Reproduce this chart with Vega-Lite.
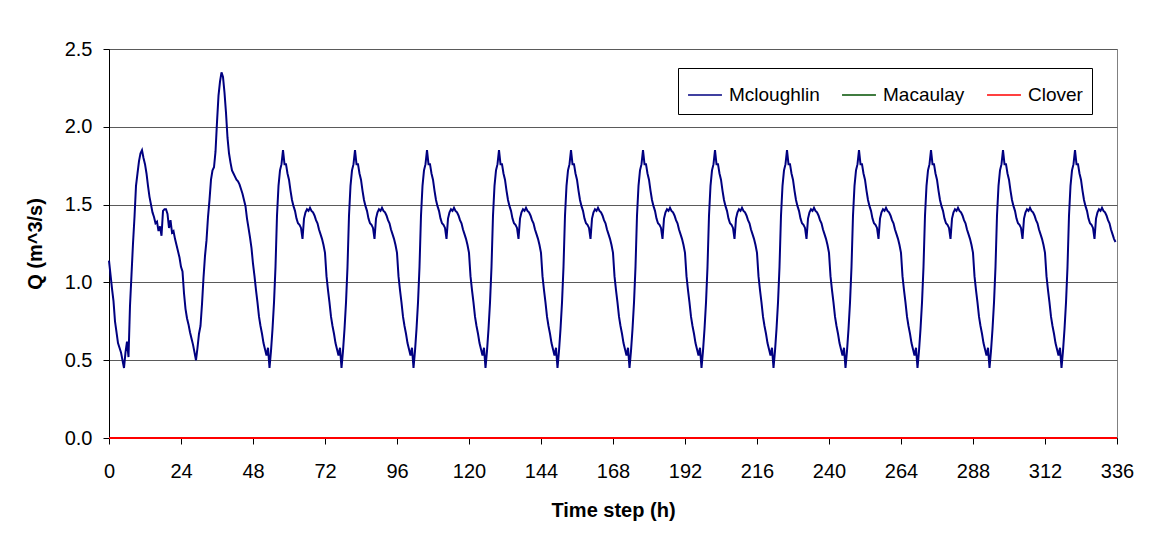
{
"$schema": "https://vega.github.io/schema/vega-lite/v6.json",
"width": 1008,
"height": 389,
"autosize": {"type": "none"},
"padding": {"left": 109, "top": 49, "right": 37, "bottom": 100},
"background": "white",
"config": {
  "font": "Liberation Sans",
  "view": {"stroke": "#808080", "strokeWidth": 1},
  "axis": {"labelFont": "Liberation Sans", "titleFont": "Liberation Sans", "labelFontSize": 20, "titleFontSize": 20, "labelColor": "black", "titleColor": "black", "domainColor": "black", "tickColor": "black", "tickSize": 6, "gridColor": "#5a5a5a", "titleFontWeight": "bold"}
},
"encoding": {
  "x": {"field": "t", "type": "quantitative", "scale": {"domain": [0, 336], "nice": false, "zero": false}, "axis": {"values": [0,24,48,72,96,120,144,168,192,216,240,264,288,312,336], "grid": false, "title": "Time step (h)", "labelPadding": 17, "titlePadding": 19, "labelFlush": false}},
  "y": {"field": "q", "type": "quantitative", "scale": {"domain": [0, 2.5], "nice": false}, "axis": {"values": [0,0.5,1,1.5,2,2.5], "format": ".1f", "title": "Q (m^3/s)", "grid": true, "labelPadding": 11, "titlePadding": 19}}
},
"layer": [
{
"data": {"values": [
{"t":0,"q":1.14},{"t":0.5,"q":1.05},{"t":1,"q":0.96},{"t":1.5,"q":0.88},{"t":2,"q":0.75},{"t":2.5,"q":0.68},{"t":3,"q":0.61},{"t":3.5,"q":0.58},{"t":4,"q":0.55},{"t":4.5,"q":0.5},{"t":5,"q":0.45},{"t":5.5,"q":0.55},{"t":6,"q":0.62},{"t":6.5,"q":0.52},{"t":7,"q":0.85},{"t":7.5,"q":1.05},{"t":8,"q":1.25},{"t":8.5,"q":1.42},{"t":9,"q":1.62},{"t":9.5,"q":1.7},{"t":10,"q":1.78},{"t":10.5,"q":1.83},{"t":11,"q":1.85},{"t":11.5,"q":1.8},{"t":12,"q":1.76},{"t":12.5,"q":1.7},{"t":13,"q":1.62},{"t":13.5,"q":1.55},{"t":14,"q":1.5},{"t":14.5,"q":1.45},{"t":15,"q":1.42},{"t":15.5,"q":1.38},{"t":16,"q":1.39},{"t":16.5,"q":1.33},{"t":17,"q":1.36},{"t":17.5,"q":1.3},{"t":18,"q":1.46},{"t":18.5,"q":1.47},{"t":19,"q":1.47},{"t":19.5,"q":1.44},{"t":20,"q":1.35},{"t":20.5,"q":1.4},{"t":21,"q":1.32},{"t":21.5,"q":1.33},{"t":22,"q":1.28},{"t":22.5,"q":1.24},{"t":23,"q":1.2},{"t":23.5,"q":1.16},
{"t":24,"q":1.1},{"t":24.5,"q":1.07},{"t":25,"q":0.93},{"t":25.5,"q":0.83},{"t":26,"q":0.77},{"t":26.5,"q":0.73},{"t":27,"q":0.68},{"t":27.5,"q":0.64},{"t":28,"q":0.6},{"t":28.5,"q":0.55},{"t":29,"q":0.5},{"t":29.5,"q":0.58},{"t":30,"q":0.67},{"t":30.5,"q":0.72},{"t":31,"q":0.86},{"t":31.5,"q":1.03},{"t":32,"q":1.17},{"t":32.5,"q":1.27},{"t":33,"q":1.42},{"t":33.5,"q":1.53},{"t":34,"q":1.66},{"t":34.5,"q":1.72},{"t":35,"q":1.74},{"t":35.5,"q":1.84},{"t":36,"q":2.03},{"t":36.5,"q":2.2},{"t":37,"q":2.29},{"t":37.5,"q":2.35},{"t":38,"q":2.32},{"t":38.5,"q":2.22},{"t":39,"q":2.09},{"t":39.5,"q":1.93},{"t":40,"q":1.83},{"t":40.5,"q":1.77},{"t":41,"q":1.72},{"t":41.5,"q":1.7},{"t":42,"q":1.68},{"t":42.5,"q":1.66},{"t":43,"q":1.65},{"t":43.5,"q":1.63},{"t":44,"q":1.6},{"t":44.5,"q":1.57},{"t":45,"q":1.53},{"t":45.5,"q":1.49},{"t":46,"q":1.41},{"t":46.5,"q":1.35},{"t":47,"q":1.29},{"t":47.5,"q":1.22},
{"t":48,"q":1.12},{"t":48.5,"q":1.04},{"t":49,"q":0.95},{"t":49.5,"q":0.87},{"t":50,"q":0.78},{"t":50.5,"q":0.72},{"t":51,"q":0.67},{"t":51.5,"q":0.61},{"t":52,"q":0.57},{"t":52.5,"q":0.53},{"t":53,"q":0.58},{"t":53.5,"q":0.45},{"t":54,"q":0.56},{"t":54.5,"q":0.7},{"t":55,"q":0.87},{"t":55.5,"q":1.1},{"t":56,"q":1.43},{"t":56.5,"q":1.62},{"t":57,"q":1.72},{"t":57.5,"q":1.76},{"t":58,"q":1.85},{"t":58.5,"q":1.76},{"t":59,"q":1.76},{"t":59.5,"q":1.7},{"t":60,"q":1.66},{"t":60.5,"q":1.59},{"t":61,"q":1.53},{"t":61.5,"q":1.49},{"t":62,"q":1.46},{"t":62.5,"q":1.41},{"t":63,"q":1.38},{"t":63.5,"q":1.37},{"t":64,"q":1.35},{"t":64.5,"q":1.28},{"t":65,"q":1.41},{"t":65.5,"q":1.45},{"t":66,"q":1.47},{"t":66.5,"q":1.46},{"t":67,"q":1.48},{"t":67.5,"q":1.46},{"t":68,"q":1.45},{"t":68.5,"q":1.43},{"t":69,"q":1.4},{"t":69.5,"q":1.38},{"t":70,"q":1.34},{"t":70.5,"q":1.31},{"t":71,"q":1.28},{"t":71.5,"q":1.24},
{"t":72,"q":1.19},{"t":72.5,"q":1.04},{"t":73,"q":0.95},{"t":73.5,"q":0.87},{"t":74,"q":0.78},{"t":74.5,"q":0.72},{"t":75,"q":0.67},{"t":75.5,"q":0.61},{"t":76,"q":0.57},{"t":76.5,"q":0.53},{"t":77,"q":0.58},{"t":77.5,"q":0.45},{"t":78,"q":0.56},{"t":78.5,"q":0.7},{"t":79,"q":0.87},{"t":79.5,"q":1.1},{"t":80,"q":1.43},{"t":80.5,"q":1.62},{"t":81,"q":1.72},{"t":81.5,"q":1.76},{"t":82,"q":1.85},{"t":82.5,"q":1.76},{"t":83,"q":1.76},{"t":83.5,"q":1.7},{"t":84,"q":1.66},{"t":84.5,"q":1.59},{"t":85,"q":1.53},{"t":85.5,"q":1.49},{"t":86,"q":1.46},{"t":86.5,"q":1.41},{"t":87,"q":1.38},{"t":87.5,"q":1.37},{"t":88,"q":1.35},{"t":88.5,"q":1.28},{"t":89,"q":1.41},{"t":89.5,"q":1.45},{"t":90,"q":1.47},{"t":90.5,"q":1.46},{"t":91,"q":1.48},{"t":91.5,"q":1.46},{"t":92,"q":1.45},{"t":92.5,"q":1.43},{"t":93,"q":1.4},{"t":93.5,"q":1.38},{"t":94,"q":1.34},{"t":94.5,"q":1.31},{"t":95,"q":1.28},{"t":95.5,"q":1.24},
{"t":96,"q":1.19},{"t":96.5,"q":1.04},{"t":97,"q":0.95},{"t":97.5,"q":0.87},{"t":98,"q":0.78},{"t":98.5,"q":0.72},{"t":99,"q":0.67},{"t":99.5,"q":0.61},{"t":100,"q":0.57},{"t":100.5,"q":0.53},{"t":101,"q":0.58},{"t":101.5,"q":0.45},{"t":102,"q":0.56},{"t":102.5,"q":0.7},{"t":103,"q":0.87},{"t":103.5,"q":1.1},{"t":104,"q":1.43},{"t":104.5,"q":1.62},{"t":105,"q":1.72},{"t":105.5,"q":1.76},{"t":106,"q":1.85},{"t":106.5,"q":1.76},{"t":107,"q":1.76},{"t":107.5,"q":1.7},{"t":108,"q":1.66},{"t":108.5,"q":1.59},{"t":109,"q":1.53},{"t":109.5,"q":1.49},{"t":110,"q":1.46},{"t":110.5,"q":1.41},{"t":111,"q":1.38},{"t":111.5,"q":1.37},{"t":112,"q":1.35},{"t":112.5,"q":1.28},{"t":113,"q":1.41},{"t":113.5,"q":1.45},{"t":114,"q":1.47},{"t":114.5,"q":1.46},{"t":115,"q":1.48},{"t":115.5,"q":1.46},{"t":116,"q":1.45},{"t":116.5,"q":1.43},{"t":117,"q":1.4},{"t":117.5,"q":1.38},{"t":118,"q":1.34},{"t":118.5,"q":1.31},{"t":119,"q":1.28},{"t":119.5,"q":1.24},
{"t":120,"q":1.19},{"t":120.5,"q":1.04},{"t":121,"q":0.95},{"t":121.5,"q":0.87},{"t":122,"q":0.78},{"t":122.5,"q":0.72},{"t":123,"q":0.67},{"t":123.5,"q":0.61},{"t":124,"q":0.57},{"t":124.5,"q":0.53},{"t":125,"q":0.58},{"t":125.5,"q":0.45},{"t":126,"q":0.56},{"t":126.5,"q":0.7},{"t":127,"q":0.87},{"t":127.5,"q":1.1},{"t":128,"q":1.43},{"t":128.5,"q":1.62},{"t":129,"q":1.72},{"t":129.5,"q":1.76},{"t":130,"q":1.85},{"t":130.5,"q":1.76},{"t":131,"q":1.76},{"t":131.5,"q":1.7},{"t":132,"q":1.66},{"t":132.5,"q":1.59},{"t":133,"q":1.53},{"t":133.5,"q":1.49},{"t":134,"q":1.46},{"t":134.5,"q":1.41},{"t":135,"q":1.38},{"t":135.5,"q":1.37},{"t":136,"q":1.35},{"t":136.5,"q":1.28},{"t":137,"q":1.41},{"t":137.5,"q":1.45},{"t":138,"q":1.47},{"t":138.5,"q":1.46},{"t":139,"q":1.48},{"t":139.5,"q":1.46},{"t":140,"q":1.45},{"t":140.5,"q":1.43},{"t":141,"q":1.4},{"t":141.5,"q":1.38},{"t":142,"q":1.34},{"t":142.5,"q":1.31},{"t":143,"q":1.28},{"t":143.5,"q":1.24},
{"t":144,"q":1.19},{"t":144.5,"q":1.04},{"t":145,"q":0.95},{"t":145.5,"q":0.87},{"t":146,"q":0.78},{"t":146.5,"q":0.72},{"t":147,"q":0.67},{"t":147.5,"q":0.61},{"t":148,"q":0.57},{"t":148.5,"q":0.53},{"t":149,"q":0.58},{"t":149.5,"q":0.45},{"t":150,"q":0.56},{"t":150.5,"q":0.7},{"t":151,"q":0.87},{"t":151.5,"q":1.1},{"t":152,"q":1.43},{"t":152.5,"q":1.62},{"t":153,"q":1.72},{"t":153.5,"q":1.76},{"t":154,"q":1.85},{"t":154.5,"q":1.76},{"t":155,"q":1.76},{"t":155.5,"q":1.7},{"t":156,"q":1.66},{"t":156.5,"q":1.59},{"t":157,"q":1.53},{"t":157.5,"q":1.49},{"t":158,"q":1.46},{"t":158.5,"q":1.41},{"t":159,"q":1.38},{"t":159.5,"q":1.37},{"t":160,"q":1.35},{"t":160.5,"q":1.28},{"t":161,"q":1.41},{"t":161.5,"q":1.45},{"t":162,"q":1.47},{"t":162.5,"q":1.46},{"t":163,"q":1.48},{"t":163.5,"q":1.46},{"t":164,"q":1.45},{"t":164.5,"q":1.43},{"t":165,"q":1.4},{"t":165.5,"q":1.38},{"t":166,"q":1.34},{"t":166.5,"q":1.31},{"t":167,"q":1.28},{"t":167.5,"q":1.24},
{"t":168,"q":1.19},{"t":168.5,"q":1.04},{"t":169,"q":0.95},{"t":169.5,"q":0.87},{"t":170,"q":0.78},{"t":170.5,"q":0.72},{"t":171,"q":0.67},{"t":171.5,"q":0.61},{"t":172,"q":0.57},{"t":172.5,"q":0.53},{"t":173,"q":0.58},{"t":173.5,"q":0.45},{"t":174,"q":0.56},{"t":174.5,"q":0.7},{"t":175,"q":0.87},{"t":175.5,"q":1.1},{"t":176,"q":1.43},{"t":176.5,"q":1.62},{"t":177,"q":1.72},{"t":177.5,"q":1.76},{"t":178,"q":1.85},{"t":178.5,"q":1.76},{"t":179,"q":1.76},{"t":179.5,"q":1.7},{"t":180,"q":1.66},{"t":180.5,"q":1.59},{"t":181,"q":1.53},{"t":181.5,"q":1.49},{"t":182,"q":1.46},{"t":182.5,"q":1.41},{"t":183,"q":1.38},{"t":183.5,"q":1.37},{"t":184,"q":1.35},{"t":184.5,"q":1.28},{"t":185,"q":1.41},{"t":185.5,"q":1.45},{"t":186,"q":1.47},{"t":186.5,"q":1.46},{"t":187,"q":1.48},{"t":187.5,"q":1.46},{"t":188,"q":1.45},{"t":188.5,"q":1.43},{"t":189,"q":1.4},{"t":189.5,"q":1.38},{"t":190,"q":1.34},{"t":190.5,"q":1.31},{"t":191,"q":1.28},{"t":191.5,"q":1.24},
{"t":192,"q":1.19},{"t":192.5,"q":1.04},{"t":193,"q":0.95},{"t":193.5,"q":0.87},{"t":194,"q":0.78},{"t":194.5,"q":0.72},{"t":195,"q":0.67},{"t":195.5,"q":0.61},{"t":196,"q":0.57},{"t":196.5,"q":0.53},{"t":197,"q":0.58},{"t":197.5,"q":0.45},{"t":198,"q":0.56},{"t":198.5,"q":0.7},{"t":199,"q":0.87},{"t":199.5,"q":1.1},{"t":200,"q":1.43},{"t":200.5,"q":1.62},{"t":201,"q":1.72},{"t":201.5,"q":1.76},{"t":202,"q":1.85},{"t":202.5,"q":1.76},{"t":203,"q":1.76},{"t":203.5,"q":1.7},{"t":204,"q":1.66},{"t":204.5,"q":1.59},{"t":205,"q":1.53},{"t":205.5,"q":1.49},{"t":206,"q":1.46},{"t":206.5,"q":1.41},{"t":207,"q":1.38},{"t":207.5,"q":1.37},{"t":208,"q":1.35},{"t":208.5,"q":1.28},{"t":209,"q":1.41},{"t":209.5,"q":1.45},{"t":210,"q":1.47},{"t":210.5,"q":1.46},{"t":211,"q":1.48},{"t":211.5,"q":1.46},{"t":212,"q":1.45},{"t":212.5,"q":1.43},{"t":213,"q":1.4},{"t":213.5,"q":1.38},{"t":214,"q":1.34},{"t":214.5,"q":1.31},{"t":215,"q":1.28},{"t":215.5,"q":1.24},
{"t":216,"q":1.19},{"t":216.5,"q":1.04},{"t":217,"q":0.95},{"t":217.5,"q":0.87},{"t":218,"q":0.78},{"t":218.5,"q":0.72},{"t":219,"q":0.67},{"t":219.5,"q":0.61},{"t":220,"q":0.57},{"t":220.5,"q":0.53},{"t":221,"q":0.58},{"t":221.5,"q":0.45},{"t":222,"q":0.56},{"t":222.5,"q":0.7},{"t":223,"q":0.87},{"t":223.5,"q":1.1},{"t":224,"q":1.43},{"t":224.5,"q":1.62},{"t":225,"q":1.72},{"t":225.5,"q":1.76},{"t":226,"q":1.85},{"t":226.5,"q":1.76},{"t":227,"q":1.76},{"t":227.5,"q":1.7},{"t":228,"q":1.66},{"t":228.5,"q":1.59},{"t":229,"q":1.53},{"t":229.5,"q":1.49},{"t":230,"q":1.46},{"t":230.5,"q":1.41},{"t":231,"q":1.38},{"t":231.5,"q":1.37},{"t":232,"q":1.35},{"t":232.5,"q":1.28},{"t":233,"q":1.41},{"t":233.5,"q":1.45},{"t":234,"q":1.47},{"t":234.5,"q":1.46},{"t":235,"q":1.48},{"t":235.5,"q":1.46},{"t":236,"q":1.45},{"t":236.5,"q":1.43},{"t":237,"q":1.4},{"t":237.5,"q":1.38},{"t":238,"q":1.34},{"t":238.5,"q":1.31},{"t":239,"q":1.28},{"t":239.5,"q":1.24},
{"t":240,"q":1.19},{"t":240.5,"q":1.04},{"t":241,"q":0.95},{"t":241.5,"q":0.87},{"t":242,"q":0.78},{"t":242.5,"q":0.72},{"t":243,"q":0.67},{"t":243.5,"q":0.61},{"t":244,"q":0.57},{"t":244.5,"q":0.53},{"t":245,"q":0.58},{"t":245.5,"q":0.45},{"t":246,"q":0.56},{"t":246.5,"q":0.7},{"t":247,"q":0.87},{"t":247.5,"q":1.1},{"t":248,"q":1.43},{"t":248.5,"q":1.62},{"t":249,"q":1.72},{"t":249.5,"q":1.76},{"t":250,"q":1.85},{"t":250.5,"q":1.76},{"t":251,"q":1.76},{"t":251.5,"q":1.7},{"t":252,"q":1.66},{"t":252.5,"q":1.59},{"t":253,"q":1.53},{"t":253.5,"q":1.49},{"t":254,"q":1.46},{"t":254.5,"q":1.41},{"t":255,"q":1.38},{"t":255.5,"q":1.37},{"t":256,"q":1.35},{"t":256.5,"q":1.28},{"t":257,"q":1.41},{"t":257.5,"q":1.45},{"t":258,"q":1.47},{"t":258.5,"q":1.46},{"t":259,"q":1.48},{"t":259.5,"q":1.46},{"t":260,"q":1.45},{"t":260.5,"q":1.43},{"t":261,"q":1.4},{"t":261.5,"q":1.38},{"t":262,"q":1.34},{"t":262.5,"q":1.31},{"t":263,"q":1.28},{"t":263.5,"q":1.24},
{"t":264,"q":1.19},{"t":264.5,"q":1.04},{"t":265,"q":0.95},{"t":265.5,"q":0.87},{"t":266,"q":0.78},{"t":266.5,"q":0.72},{"t":267,"q":0.67},{"t":267.5,"q":0.61},{"t":268,"q":0.57},{"t":268.5,"q":0.53},{"t":269,"q":0.58},{"t":269.5,"q":0.45},{"t":270,"q":0.56},{"t":270.5,"q":0.7},{"t":271,"q":0.87},{"t":271.5,"q":1.1},{"t":272,"q":1.43},{"t":272.5,"q":1.62},{"t":273,"q":1.72},{"t":273.5,"q":1.76},{"t":274,"q":1.85},{"t":274.5,"q":1.76},{"t":275,"q":1.76},{"t":275.5,"q":1.7},{"t":276,"q":1.66},{"t":276.5,"q":1.59},{"t":277,"q":1.53},{"t":277.5,"q":1.49},{"t":278,"q":1.46},{"t":278.5,"q":1.41},{"t":279,"q":1.38},{"t":279.5,"q":1.37},{"t":280,"q":1.35},{"t":280.5,"q":1.28},{"t":281,"q":1.41},{"t":281.5,"q":1.45},{"t":282,"q":1.47},{"t":282.5,"q":1.46},{"t":283,"q":1.48},{"t":283.5,"q":1.46},{"t":284,"q":1.45},{"t":284.5,"q":1.43},{"t":285,"q":1.4},{"t":285.5,"q":1.38},{"t":286,"q":1.34},{"t":286.5,"q":1.31},{"t":287,"q":1.28},{"t":287.5,"q":1.24},
{"t":288,"q":1.19},{"t":288.5,"q":1.04},{"t":289,"q":0.95},{"t":289.5,"q":0.87},{"t":290,"q":0.78},{"t":290.5,"q":0.72},{"t":291,"q":0.67},{"t":291.5,"q":0.61},{"t":292,"q":0.57},{"t":292.5,"q":0.53},{"t":293,"q":0.58},{"t":293.5,"q":0.45},{"t":294,"q":0.56},{"t":294.5,"q":0.7},{"t":295,"q":0.87},{"t":295.5,"q":1.1},{"t":296,"q":1.43},{"t":296.5,"q":1.62},{"t":297,"q":1.72},{"t":297.5,"q":1.76},{"t":298,"q":1.85},{"t":298.5,"q":1.76},{"t":299,"q":1.76},{"t":299.5,"q":1.7},{"t":300,"q":1.66},{"t":300.5,"q":1.59},{"t":301,"q":1.53},{"t":301.5,"q":1.49},{"t":302,"q":1.46},{"t":302.5,"q":1.41},{"t":303,"q":1.38},{"t":303.5,"q":1.37},{"t":304,"q":1.35},{"t":304.5,"q":1.28},{"t":305,"q":1.41},{"t":305.5,"q":1.45},{"t":306,"q":1.47},{"t":306.5,"q":1.46},{"t":307,"q":1.48},{"t":307.5,"q":1.46},{"t":308,"q":1.45},{"t":308.5,"q":1.43},{"t":309,"q":1.4},{"t":309.5,"q":1.38},{"t":310,"q":1.34},{"t":310.5,"q":1.31},{"t":311,"q":1.28},{"t":311.5,"q":1.24},
{"t":312,"q":1.19},{"t":312.5,"q":1.04},{"t":313,"q":0.95},{"t":313.5,"q":0.87},{"t":314,"q":0.78},{"t":314.5,"q":0.72},{"t":315,"q":0.67},{"t":315.5,"q":0.61},{"t":316,"q":0.57},{"t":316.5,"q":0.53},{"t":317,"q":0.58},{"t":317.5,"q":0.45},{"t":318,"q":0.56},{"t":318.5,"q":0.7},{"t":319,"q":0.87},{"t":319.5,"q":1.1},{"t":320,"q":1.43},{"t":320.5,"q":1.62},{"t":321,"q":1.72},{"t":321.5,"q":1.76},{"t":322,"q":1.85},{"t":322.5,"q":1.76},{"t":323,"q":1.76},{"t":323.5,"q":1.7},{"t":324,"q":1.66},{"t":324.5,"q":1.59},{"t":325,"q":1.53},{"t":325.5,"q":1.49},{"t":326,"q":1.46},{"t":326.5,"q":1.41},{"t":327,"q":1.38},{"t":327.5,"q":1.37},{"t":328,"q":1.35},{"t":328.5,"q":1.28},{"t":329,"q":1.41},{"t":329.5,"q":1.45},{"t":330,"q":1.47},{"t":330.5,"q":1.46},{"t":331,"q":1.48},{"t":331.5,"q":1.46},{"t":332,"q":1.45},{"t":332.5,"q":1.43},{"t":333,"q":1.4},{"t":333.5,"q":1.38},{"t":334,"q":1.34},{"t":334.5,"q":1.31},{"t":335,"q":1.28},{"t":335.5,"q":1.26}
]},
"mark": {"type": "line", "strokeWidth": 2},
"encoding": {
  "color": {"datum": "Mcloughlin", "type": "nominal",
    "scale": {"domain": ["Mcloughlin", "Macaulay", "Clover"], "range": ["#000080", "#005000", "#FF0000"]},
    "legend": {"orient": "none", "legendX": 569, "legendY": 19, "direction": "horizontal", "title": null, "strokeColor": "black", "fillColor": "white", "padding": 9, "symbolType": "stroke", "symbolSize": 1150, "symbolStrokeWidth": 1.5, "labelFontSize": 19, "labelFont": "Liberation Sans", "labelColor": "black", "columnPadding": 19, "labelOffset": 6}}
}
},
{
"data": {"values": [{"t": 0, "q": 0}, {"t": 336, "q": 0}]},
"mark": {"type": "line", "strokeWidth": 2},
"encoding": {"color": {"datum": "Macaulay", "type": "nominal"}}
},
{
"data": {"values": [{"t": 0, "q": 0}, {"t": 336, "q": 0}]},
"mark": {"type": "line", "strokeWidth": 2},
"encoding": {"color": {"datum": "Clover", "type": "nominal"}}
}
]
}
